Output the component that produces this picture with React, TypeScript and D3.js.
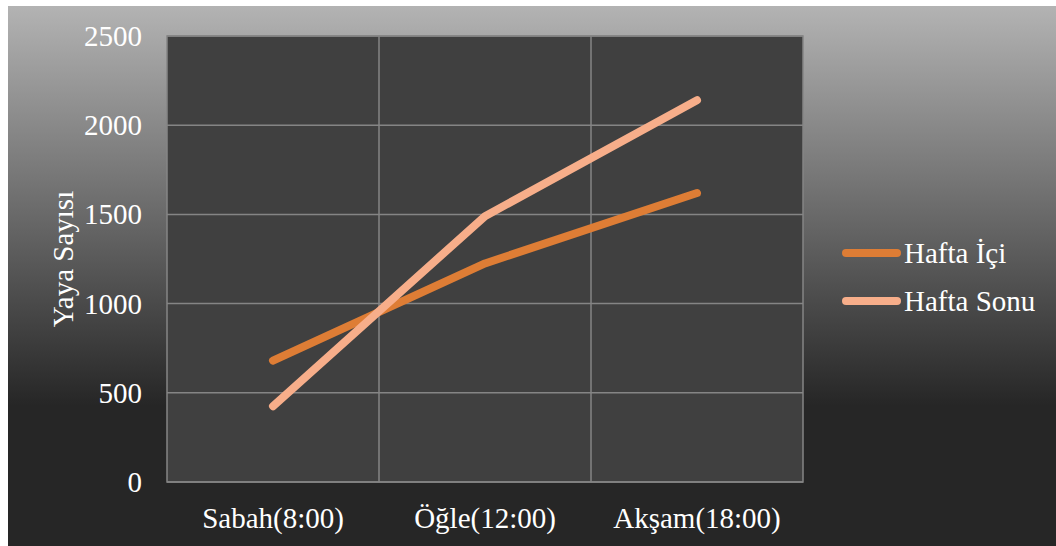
import React from "react";
import * as d3 from "d3";

const categories = ["Sabah(8:00)", "Öğle(12:00)", "Akşam(18:00)"];
const haftaIci = [680, 1225, 1620];
const haftaSonu = [425, 1490, 2140];
const seriesNames = ["Hafta İçi", "Hafta Sonu"];
const yTicks = [0, 500, 1000, 1500, 2000, 2500];
const yTitle = "Yaya Sayısı";

const W = 1056;
const H = 546;
const plot = { left: 167, right: 803, top: 36, bottom: 482 };
const colors = ["#DE7D35", "#F7AE8A"];
const FS = 29;

export default function App() {
  const x = d3
    .scaleBand<string>()
    .domain(categories)
    .range([plot.left, plot.right])
    .paddingInner(0)
    .paddingOuter(0);
  const y = d3.scaleLinear().domain([0, 2500]).range([plot.bottom, plot.top]);
  const line = d3
    .line<number>()
    .x((_, i) => (x(categories[i]) as number) + x.bandwidth() / 2)
    .y((d) => y(d));
  const series = [haftaIci, haftaSonu];

  return (
    <svg
      width={W}
      height={H}
      style={{ position: "absolute", left: 0, top: 0, display: "block" }}
    >
      <style>{`.lbl { font-family: "Liberation Serif", serif; font-size: ${FS}px; }`}</style>
      <defs>
        <linearGradient id="bg" x1="0" y1="0" x2="0" y2="1">
          <stop offset="0" stopColor="#b3b3b3" />
          <stop offset="0.74" stopColor="#262626" />
          <stop offset="1" stopColor="#262626" />
        </linearGradient>
      </defs>
      <rect x={0} y={0} width={W} height={H} fill="#ffffff" />
      <rect x={8} y={6} width={W - 8} height={H - 6} fill="url(#bg)" />
      <rect
        x={plot.left}
        y={plot.top}
        width={plot.right - plot.left}
        height={plot.bottom - plot.top}
        fill="#404040"
      />
      {yTicks.map((t) => (
        <line
          key={"g" + t}
          x1={plot.left}
          x2={plot.right}
          y1={y(t)}
          y2={y(t)}
          stroke="#858585"
          strokeWidth={1.5}
        />
      ))}
      {categories.map((c, i) =>
        i === 0 ? null : (
          <line
            key={"v" + c}
            x1={x(c)}
            x2={x(c)}
            y1={plot.top}
            y2={plot.bottom}
            stroke="#858585"
            strokeWidth={1.5}
          />
        )
      )}
      <rect
        x={plot.left}
        y={plot.top}
        width={plot.right - plot.left}
        height={plot.bottom - plot.top}
        fill="none"
        stroke="#858585"
        strokeWidth={1.5}
      />
      {yTicks.map((t) => (
        <text
          key={"t" + t}
          className="lbl"
          x={142}
          y={y(t) + 10}
          textAnchor="end"
          fill="#ffffff"
          fontFamily="Liberation Serif"
          fontSize={FS}
        >
          {t}
        </text>
      ))}
      {categories.map((c) => (
        <text
          key={"c" + c}
          className="lbl"
          x={(x(c) as number) + x.bandwidth() / 2}
          y={528}
          textAnchor="middle"
          fill="#ffffff"
          fontFamily="Liberation Serif"
          fontSize={FS}
        >
          {c}
        </text>
      ))}
      <text
        className="lbl"
        transform={`translate(73,${(plot.top + plot.bottom) / 2}) rotate(-90)`}
        textAnchor="middle"
        fill="#ffffff"
        fontFamily="Liberation Serif"
        fontSize={FS}
      >
        {yTitle}
      </text>
      {series.map((s, i) => (
        <path
          key={"s" + i}
          d={line(s) || ""}
          fill="none"
          stroke={colors[i]}
          strokeWidth={8}
          strokeLinecap="round"
          strokeLinejoin="round"
        />
      ))}
      {seriesNames.map((n, i) => {
        const ly = 253 + i * 48;
        return (
          <g key={"l" + n}>
            <line
              x1={846}
              x2={897}
              y1={ly}
              y2={ly}
              stroke={colors[i]}
              strokeWidth={8}
              strokeLinecap="round"
            />
            <text
              className="lbl"
              x={904}
              y={ly + 10}
              fill="#ffffff"
              fontFamily="Liberation Serif"
              fontSize={FS}
            >
              {n}
            </text>
          </g>
        );
      })}
    </svg>
  );
}
